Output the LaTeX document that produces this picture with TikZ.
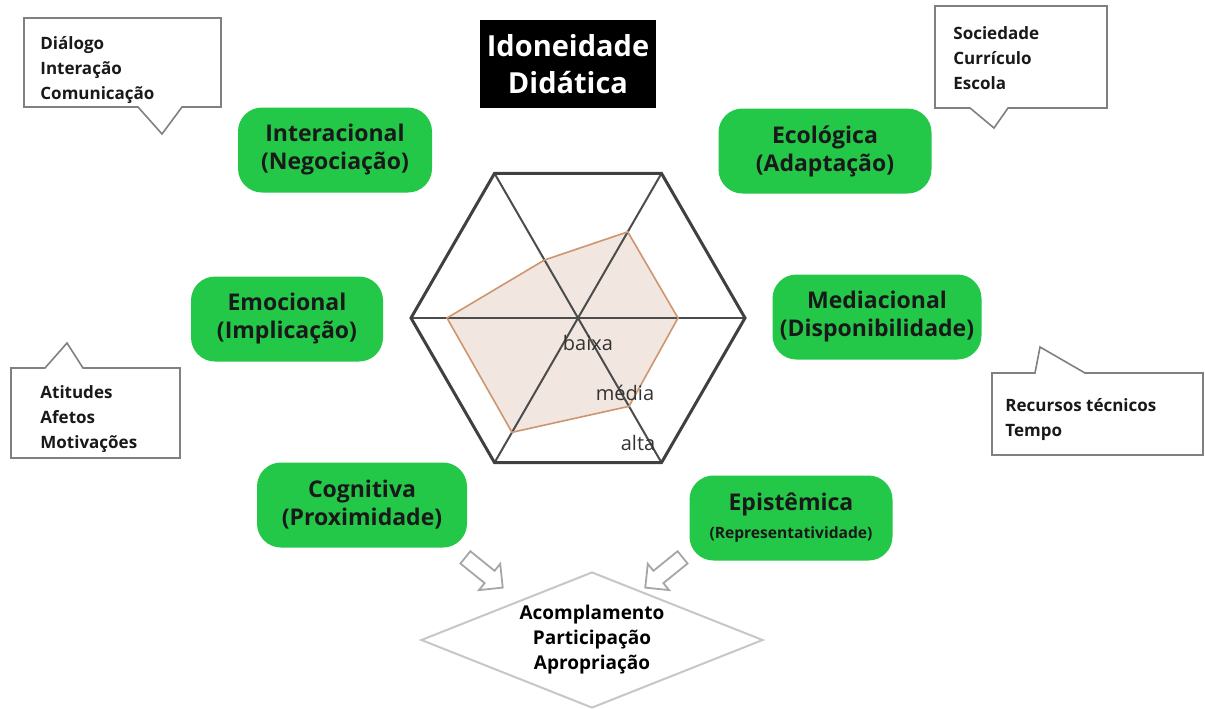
\documentclass[tikz,border=0pt]{standalone}
\usepackage{fontspec}
\setmainfont{Open Sans}
\usetikzlibrary{positioning, calc, shapes.geometric, shapes.arrows}
\definecolor{dimgreen}{RGB}{36,200,72}
\definecolor{polyfill}{RGB}{242,230,224}
\definecolor{polyline}{RGB}{205,150,110}

\begin{document}
\begin{tikzpicture}[x=0.5pt, y=-0.5pt,
  dim/.style={fill=dimgreen, rounded corners=12pt, align=center, minimum height=42.5pt,
              font=\bfseries\fontsize{11.5}{14}\selectfont, text=black!90},
  titlebox/.style={fill=black, text=white, align=center, minimum width=85.5pt,
              minimum height=44pt, font=\bfseries\fontsize{14.5}{18.5}\selectfont},
  bubble/.style={draw=black!50, line width=0.8pt, fill=white, line join=miter},
  bubbletxt/.style={align=left, inner sep=0pt, text=black!90,
              font=\bfseries\fontsize{8.5}{12.5}\selectfont},
  lvl/.style={inner sep=0pt, text=black!80, font=\fontsize{10}{12}\selectfont},
  goal/.style={diamond, aspect=2.5, draw=black!22, line width=1pt, minimum width=171pt,
              minimum height=68pt, inner sep=0pt, align=center,
              font=\bfseries\fontsize{9.5}{12.5}\selectfont},
  hollow/.style={single arrow, draw=black!35, line width=0.9pt, fill=white,
              minimum height=24pt, inner sep=3.5pt, single arrow head extend=4.5pt},
]
  \fill[white] (0,0) rectangle (1205,708);
  \useasboundingbox (0,0) rectangle (1205,708);

  % balões de texto
  \draw[bubble] (24,18) -- (221,18) -- (221,107) -- (182,107) -- (162,134) -- (138,107) -- (24,107) -- cycle;
  \draw[bubble] (935,6) -- (1107,6) -- (1107,108) -- (1008,108) -- (994,128) -- (970,108) -- (935,108) -- cycle;
  \draw[bubble] (11,368) -- (45,368) -- (67,343) -- (83,368) -- (180,368) -- (180,458) -- (11,458) -- cycle;
  \draw[bubble] (992,373) -- (1035,373) -- (1040,347) -- (1085,373) -- (1203,373) -- (1203,455) -- (992,455) -- cycle;
  \node[bubbletxt, anchor=west] (Bint) at (40,70)    {Diálogo\\Interação\\Comunicação};
  \node[bubbletxt, anchor=west] (Beco) at (953,58)   {Sociedade\\Currículo\\Escola};
  \node[bubbletxt, anchor=west] (Bemo) at (40,419)   {Atitudes\\Afetos\\Motivações};
  \node[bubbletxt, anchor=west] (Bmed) at (1005,420) {Recursos técnicos\\Tempo};

  \node[titlebox] (Titulo) at (568,64) {Idoneidade\\Didática};

  % dimensões
  \foreach \dn/\dx/\dy/\dw/\dtxt in {%
    Inter/335/150/97/{Interacional\\(Negociação)},%
    Eco/825/151/106.5/{Ecológica\\(Adaptação)},%
    Emo/287/319/96/{Emocional\\(Implicação)},%
    Med/877/317/104.5/{Mediacional\\(Disponibilidade)},%
    Cog/362/505/105/{Cognitiva\\(Proximidade)},%
    Epi/791/518/101.5/{Epistêmica\\{\fontsize{7.8}{10}\selectfont(Representatividade)}}%
  } {
    \node[dim, minimum width=\dw pt] (\dn) at (\dx,\dy) {\dtxt};
  }

  % hexágono
  \coordinate (C) at (578,318);
  \foreach \hk in {0,...,5} {
    \coordinate (H\hk) at ($(C)+(\hk*60:167)$);
  }
  \foreach \pk/\pa/\pr in {0/180/131, 1/240/67, 2/300/99.5, 3/0/100, 4/60/102, 5/120/132} {
    \coordinate (P\pk) at ($(C)+(\pa:\pr)$);
  }
  \fill[polyfill] (P0) -- (P1) -- (P2) -- (P3) -- (P4) -- (P5) -- cycle;
  \foreach \ha/\hb in {0/3, 1/4, 2/5} {
    \draw[line width=1pt, black!70] (H\ha) -- (H\hb);
  }
  \draw[line width=1.5pt, black!75] (H0) -- (H1) -- (H2) -- (H3) -- (H4) -- (H5) -- cycle;
  \draw[line width=0.8pt, polyline] (P0) -- (P1) -- (P2) -- (P3) -- (P4) -- (P5) -- cycle;

  \node[lvl] (Lbaixa) at (588,343) {baixa};
  \node[lvl] (Lmedia) at (625,393) {média};
  \node[lvl] (Lalta)  at (638,443) {alta};

  % resultado
  \node[hollow, rotate=-39] (Aesq) at (481,570) {};
  \node[hollow, rotate=219] (Adir) at (667,570) {};
  \node[goal] (Meta) at (592,640) {Acomplamento\\Participação\\Apropriação};
\end{tikzpicture}
\end{document}
